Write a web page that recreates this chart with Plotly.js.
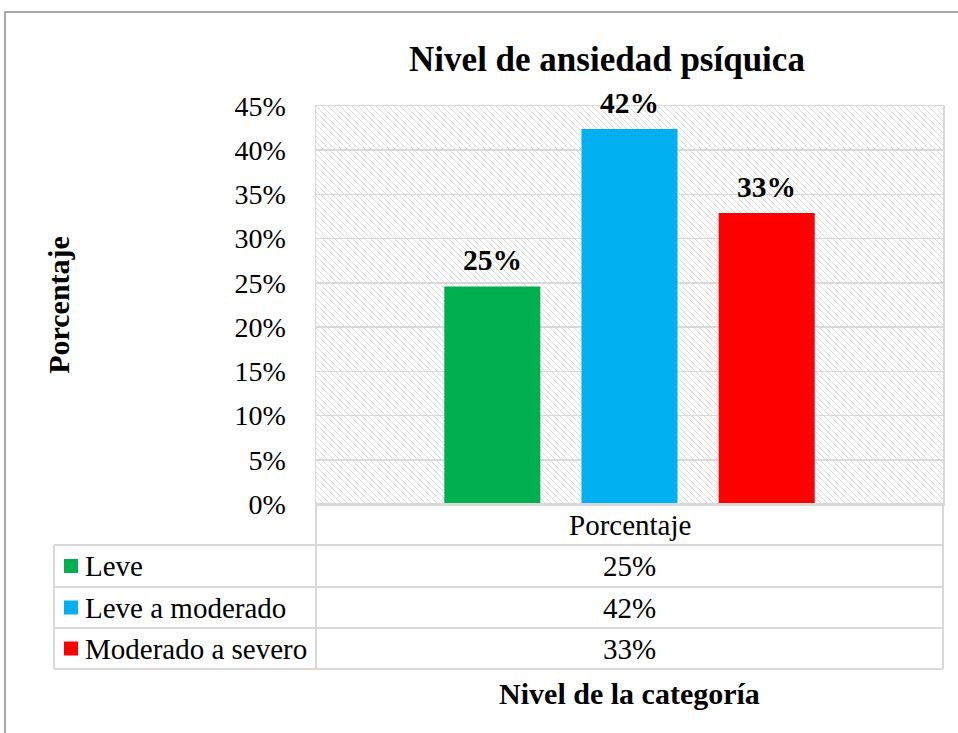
<!DOCTYPE html>
<html>
<head>
<meta charset="utf-8">
<script src="https://cdn.plot.ly/plotly-3.0.1.min.js"></script>
<style>html,body{margin:0;padding:0;background:#fff;}#chart{width:958px;height:733px;}</style>
</head>
<body>
<div id="chart"></div>
<script>
// ---- data ----
const chartTitle = 'Nivel de ansiedad psíquica';
const seriesName = 'Porcentaje';
const categories = ['Leve', 'Leve a moderado', 'Moderado a severo'];
const values = [0.246, 0.424, 0.329];
const colors = ['#00B050', '#00B0F0', '#FF0000'];
const yTickVals = [0, 0.05, 0.10, 0.15, 0.20, 0.25, 0.30, 0.35, 0.40, 0.45];
const yTitle = 'Porcentaje';
const xTitle = 'Nivel de la categoría';

// ---- layout helpers ----
const W = 958, H = 733;
const M = {l: 316, r: 15, t: 106, b: 229};
const PW = W - M.l - M.r, PH = H - M.t - M.b;
const px = x => (x - M.l) / PW;
const py = y => (H - M.b - y) / PH;
const FONT = '"Liberation Serif", "Times New Roman", serif';
const GRID = '#d9d9d9';
const fmtPct = v => Math.round(v * 100) + '%';

const hatch = "<svg xmlns='http://www.w3.org/2000/svg' width='" + PW + "' height='" + PH + "'>" +
  "<defs><pattern id='p' width='6' height='6' patternUnits='userSpaceOnUse'>" +
  "<path d='M-1,-1 L7,7 M-1,5 L1,7 M5,-1 L7,1' stroke='#dcdcdc' stroke-width='1'/></pattern></defs>" +
  "<rect width='100%' height='100%' fill='url(#p)'/></svg>";

const trace = {
  type: 'bar',
  name: seriesName,
  x: categories,
  y: values,
  marker: {color: colors},
  width: 0.70,
  hoverinfo: 'x+y',
  showlegend: false
};

const shapes = [];
const annotations = [];

// outer chart frame
shapes.push({type: 'rect', xref: 'paper', yref: 'paper', x0: px(5), x1: px(1000), y0: py(12), y1: py(790),
  line: {color: '#8c8c8c', width: 1.5}, fillcolor: 'rgba(0,0,0,0)'});

// data table grid
const tblLeft = 54, tblMid = 316, tblRight = 943;
const rowY = [504, 545, 587, 628, 669];
const line = (x0, y0, x1, y1) => ({type: 'line', xref: 'paper', yref: 'paper',
  x0: px(x0), y0: py(y0), x1: px(x1), y1: py(y1), line: {color: GRID, width: 2}});
shapes.push(line(tblMid, 504, tblMid, 669));
shapes.push(line(tblRight, 504, tblRight, 669));
shapes.push(line(tblLeft, 545, tblLeft, 669));
shapes.push(line(tblMid, 504, tblRight, 504));
for (let i = 1; i < rowY.length; i++) shapes.push(line(tblLeft, rowY[i], tblRight, rowY[i]));

const cellFont = {family: FONT, size: 29, color: '#000'};
const colCenter = (tblMid + tblRight) / 2;
annotations.push({xref: 'paper', yref: 'paper', x: px(colCenter), y: py((rowY[0] + rowY[1]) / 2),
  text: seriesName, showarrow: false, font: cellFont, xanchor: 'center', yanchor: 'middle'});

categories.forEach((c, i) => {
  const yc = (rowY[i + 1] + rowY[i + 2]) / 2;
  shapes.push({type: 'rect', xref: 'paper', yref: 'paper',
    x0: px(64), x1: px(78), y0: py(yc - 7), y1: py(yc + 7),
    fillcolor: colors[i], line: {width: 0}});
  annotations.push({xref: 'paper', yref: 'paper', x: px(83), y: py(yc), text: c, showarrow: false,
    font: cellFont, xanchor: 'left', yanchor: 'middle'});
  annotations.push({xref: 'paper', yref: 'paper', x: px(colCenter), y: py(yc), text: fmtPct(values[i]),
    showarrow: false, font: cellFont, xanchor: 'center', yanchor: 'middle'});
  // bar data labels
  annotations.push({xref: 'x', yref: 'y', x: c, y: values[i], text: fmtPct(values[i]), showarrow: false,
    font: {family: FONT, size: 29.5, color: '#000', weight: 'bold'}, xanchor: 'center', yanchor: 'middle', yshift: 26});
});

const layout = {
  width: W, height: H,
  margin: M,
  paper_bgcolor: '#ffffff',
  plot_bgcolor: 'rgba(0,0,0,0)',
  showlegend: false,
  title: {text: chartTitle, x: 607 / W, xref: 'container', xanchor: 'center',
    y: 1 - 59 / H, yref: 'container', yanchor: 'middle',
    font: {family: FONT, size: 35, color: '#000', weight: 'bold'}},
  xaxis: {
    type: 'category',
    range: [-1.285, 3.285],
    showticklabels: false, ticks: '',
    showgrid: false, zeroline: false,
    showline: true, mirror: true, linecolor: GRID, linewidth: 1.5,
    fixedrange: true,
    title: {text: xTitle, standoff: 178, font: {family: FONT, size: 30, color: '#000', weight: 'bold'}}
  },
  yaxis: {
    range: [0, 0.45],
    tickvals: yTickVals,
    tickformat: '.0%',
    ticks: 'outside', ticklen: 23, tickcolor: 'rgba(0,0,0,0)',
    tickfont: {family: FONT, size: 28, color: '#000'},
    showgrid: true, gridcolor: GRID, gridwidth: 1.5,
    zeroline: false,
    showline: true, mirror: true, linecolor: GRID, linewidth: 1.5,
    fixedrange: true,
    title: {text: yTitle, standoff: 156, font: {family: FONT, size: 30, color: '#000', weight: 'bold'}}
  },
  images: [{source: 'data:image/svg+xml;charset=utf-8,' + encodeURIComponent(hatch),
    xref: 'x domain', yref: 'y domain', x: 0, y: 1, sizex: 1, sizey: 1,
    xanchor: 'left', yanchor: 'top', sizing: 'stretch', layer: 'below'}],
  shapes: shapes,
  annotations: annotations
};

Plotly.newPlot('chart', [trace], layout, {displayModeBar: false, staticPlot: true});
</script>
</body>
</html>
